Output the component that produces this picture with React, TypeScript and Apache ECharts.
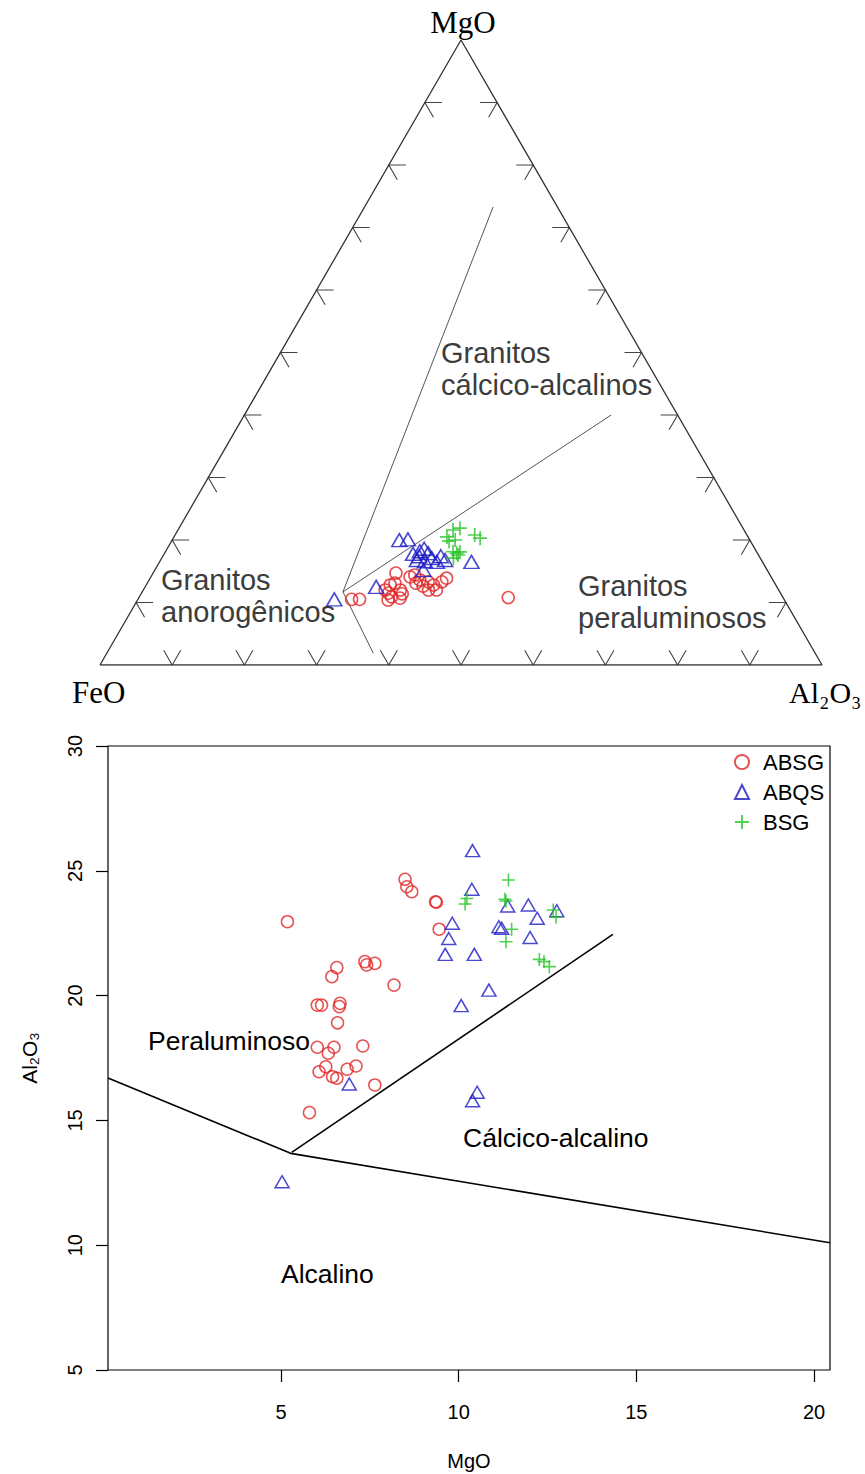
import React, { useEffect, useRef } from 'react';
import * as echarts from 'echarts';

const H = Math.sqrt(3) / 2;

// ---------- Ternary diagram data: [MgO, FeO, Al2O3] (%) ----------
const ternABSG: number[][] = [
  [10.5, 59.9, 29.6], [10.5, 58.8, 30.7], [12.0, 54.5, 33.5], [11.5, 54.3, 34.2],
  [10.4, 54.9, 34.7], [12.8, 53.4, 33.8], [10.9, 54.1, 34.9], [13.1, 52.6, 34.3],
  [14.7, 51.6, 33.6], [12.0, 52.4, 35.6], [10.7, 53.1, 36.2], [11.4, 52.5, 36.2],
  [14.1, 50.0, 35.9], [14.4, 49.2, 36.4], [13.6, 48.9, 37.5], [13.1, 49.7, 37.2],
  [12.6, 48.9, 38.4], [13.3, 47.9, 38.8], [12.0, 48.5, 39.5], [12.8, 47.4, 39.8],
  [12.0, 47.4, 40.6], [13.3, 46.0, 40.7], [13.9, 45.1, 41.1], [10.8, 38.1, 51.2],
];
const ternABQS: number[][] = [
  [10.5, 62.3, 27.2], [12.5, 55.5, 32.0], [20.0, 48.6, 31.5], [20.1, 47.3, 32.6],
  [17.8, 47.8, 34.5], [18.2, 46.6, 35.2], [18.6, 45.8, 35.6], [17.9, 45.6, 36.5],
  [17.1, 45.5, 37.4], [16.8, 47.7, 35.5], [16.6, 46.7, 36.7], [16.5, 45.1, 38.4],
  [17.4, 44.1, 38.5], [15.2, 47.6, 37.2], [16.8, 43.8, 39.4], [16.5, 40.3, 43.2],
  [17.4, 47.1, 35.5],
];
const ternBSG: number[][] = [
  [21.6, 40.3, 38.1], [21.9, 39.2, 38.9], [20.5, 41.7, 37.8], [20.0, 40.8, 39.2],
  [20.8, 37.7, 41.5], [20.3, 37.2, 42.5], [18.1, 42.0, 39.8], [17.9, 41.7, 40.5],
  [17.6, 41.6, 40.8], [17.1, 42.5, 40.4], [18.1, 41.1, 40.8], [19.8, 41.7, 38.4],
];
const ternJunction = [11.7, 60.5, 27.8];
const ternBoundaryEnds: number[][] = [
  [73.3, 8.9, 17.8],
  [40.0, 9.2, 50.8],
  [1.9, 61.2, 36.9],
];
const ternTickFractions = [0.1, 0.2, 0.3, 0.4, 0.5, 0.6, 0.7, 0.8, 0.9];

// ---------- Binary diagram data: [MgO, Al2O3] ----------
const absg: number[][] = [
  [5.18, 22.96], [8.49, 24.66], [8.54, 24.36], [8.68, 24.16], [9.35, 23.76], [9.37, 23.74],
  [9.45, 22.66], [6.57, 21.12], [6.43, 20.76], [7.36, 21.36], [7.41, 21.23], [7.64, 21.29],
  [8.18, 20.42], [6.02, 19.62], [6.14, 19.62], [6.66, 19.69], [6.64, 19.56], [6.59, 18.91],
  [6.02, 17.93], [6.49, 17.93], [6.33, 17.69], [7.30, 17.98], [6.26, 17.15], [6.07, 16.95],
  [7.11, 17.18], [6.86, 17.05], [6.45, 16.75], [6.57, 16.69], [7.64, 16.42], [5.80, 15.31],
];
const abqs: number[][] = [
  [10.39, 25.81], [10.37, 24.26], [11.38, 23.59], [11.96, 23.63], [12.21, 23.10], [12.76, 23.40],
  [9.82, 22.90], [11.13, 22.76], [11.21, 22.70], [9.72, 22.29], [12.01, 22.33], [9.62, 21.65],
  [10.44, 21.65], [10.85, 20.22], [10.07, 19.60], [6.92, 16.46], [10.52, 16.13], [10.39, 15.79],
  [5.03, 12.54],
];
const bsg: number[][] = [
  [11.40, 24.63], [10.23, 23.89], [10.18, 23.67], [11.30, 23.86], [11.33, 23.79], [11.49, 22.66],
  [11.33, 22.16], [12.66, 23.43], [12.74, 23.14], [12.27, 21.45], [12.40, 21.36], [12.55, 21.16],
];
const fieldLine1: number[][] = [[0.13, 16.7], [5.27, 13.68], [20.45, 10.1]];
const fieldLine2: number[][] = [[5.3, 13.72], [14.34, 22.45]];
const xTickValues = [5, 10, 15, 20];

const RED = '#e02626';
const BLUE = '#1c1cc4';
const GREEN = '#26c426';
const SANS = '"Liberation Sans", Arial, sans-serif';
const SERIF = '"Liberation Serif", "Times New Roman", serif';
const CROSS = 'path://M6,0L6,12M0,6L12,6';

function toXY(p: number[]): number[] {
  const s = p[0] + p[1] + p[2];
  const a = p[0] / s;
  const c = p[2] / s;
  return [c + a / 2, a * H];
}

function buildTicks(): number[][][] {
  const L = 17 / 722;
  const out: number[][][] = [];
  ternTickFractions.forEach((f) => {
    const pb = [f, 0];
    out.push([[pb[0] - 0.5 * L, H * L], pb, [pb[0] + 0.5 * L, H * L]]);
    const pl = [f / 2, f * H];
    out.push([[pl[0] + L, pl[1]], pl, [pl[0] + 0.5 * L, pl[1] - H * L]]);
    const pr = [1 - f / 2, f * H];
    out.push([[pr[0] - L, pr[1]], pr, [pr[0] - 0.5 * L, pr[1] - H * L]]);
  });
  return out;
}

export default function App() {
  const ref = useRef<HTMLDivElement>(null);
  useEffect(() => {
    if (!ref.current) return;
    const chart = echarts.init(ref.current, undefined, { renderer: 'svg' });
    const ticks = buildTicks();
    const junction = toXY(ternJunction);
    const option: any = {
      animation: false,
      backgroundColor: '#fff',
      grid: [
        { left: 100, top: 40, width: 722, height: 625, show: false },
        { left: 108, top: 746, width: 722, height: 624, show: true, borderColor: '#000', borderWidth: 1.2, backgroundColor: 'transparent' },
      ],
      xAxis: [
        { gridIndex: 0, type: 'value', min: 0, max: 1, show: false },
        {
          gridIndex: 1, type: 'value', min: 0.13, max: 20.45,
          splitLine: { show: false },
          axisLine: { show: false },
          axisTick: { show: true, length: 12, customValues: xTickValues, lineStyle: { color: '#000', width: 1.2 } },
          axisLabel: { customValues: xTickValues, margin: 32, fontSize: 20, color: '#000', fontFamily: SANS },
          name: 'MgO', nameLocation: 'middle', nameGap: 81,
          nameTextStyle: { fontSize: 20, color: '#000', fontFamily: SANS },
        },
      ],
      yAxis: [
        { gridIndex: 0, type: 'value', min: 0, max: H, show: false },
        {
          gridIndex: 1, type: 'value', min: 5, max: 30, interval: 5,
          splitLine: { show: false },
          axisLine: { show: false },
          axisTick: { show: true, length: 12, lineStyle: { color: '#000', width: 1.2 } },
          axisLabel: { rotate: 90, margin: 23, fontSize: 20, color: '#000', fontFamily: SANS },
          name: 'Al₂O₃', nameLocation: 'middle', nameGap: 68,
          nameTextStyle: { fontSize: 21, color: '#000', fontFamily: SANS },
        },
      ],
      legend: {
        left: 734, top: 751, padding: 0, orient: 'vertical', itemWidth: 14, itemHeight: 14, itemGap: 8,
        selectedMode: false,
        textStyle: { fontSize: 22, color: '#000', fontFamily: SANS, padding: [0, 0, 0, 9] },
        data: ['ABSG', 'ABQS', 'BSG'],
      },
      series: [
        {
          name: 'ABSG', type: 'scatter', xAxisIndex: 1, yAxisIndex: 1, data: absg,
          symbol: 'circle', symbolSize: 12,
          itemStyle: { color: 'transparent', borderColor: RED, borderWidth: 1.5 }, z: 5,
        },
        {
          name: 'ABQS', type: 'scatter', xAxisIndex: 1, yAxisIndex: 1, data: abqs,
          symbol: 'triangle', symbolSize: [14, 12],
          itemStyle: { color: 'transparent', borderColor: BLUE, borderWidth: 1.5 }, z: 5,
        },
        {
          name: 'BSG', type: 'scatter', xAxisIndex: 1, yAxisIndex: 1, data: bsg,
          symbol: CROSS, symbolSize: 13,
          itemStyle: { color: 'transparent', borderColor: GREEN, borderWidth: 1.6 }, z: 5,
        },
        {
          type: 'line', xAxisIndex: 1, yAxisIndex: 1, data: fieldLine1, symbol: 'none',
          lineStyle: { color: '#000', width: 1.6 }, silent: true, z: 3,
        },
        {
          type: 'line', xAxisIndex: 1, yAxisIndex: 1, data: fieldLine2, symbol: 'none',
          lineStyle: { color: '#000', width: 1.6 }, silent: true, z: 3,
        },
        {
          type: 'line', xAxisIndex: 0, yAxisIndex: 0, symbol: 'none', silent: true,
          data: [[0, 0], [1, 0], [0.5, H], [0, 0]],
          lineStyle: { color: '#333', width: 1.3 }, z: 2,
        },
        {
          type: 'lines', coordinateSystem: 'cartesian2d', xAxisIndex: 0, yAxisIndex: 0,
          polyline: true, silent: true,
          data: ticks.map((t) => ({ coords: t })),
          lineStyle: { color: '#444', width: 1.1, opacity: 1 }, z: 2,
        },
        {
          type: 'lines', coordinateSystem: 'cartesian2d', xAxisIndex: 0, yAxisIndex: 0,
          polyline: false, silent: true,
          data: ternBoundaryEnds.map((e) => ({ coords: [junction, toXY(e)] })),
          lineStyle: { color: '#555', width: 1, opacity: 1 }, z: 2,
        },
        {
          name: 'ABSG', type: 'scatter', xAxisIndex: 0, yAxisIndex: 0, data: ternABSG.map(toXY),
          symbol: 'circle', symbolSize: 12,
          itemStyle: { color: 'transparent', borderColor: RED, borderWidth: 1.6 }, z: 5,
        },
        {
          name: 'ABQS', type: 'scatter', xAxisIndex: 0, yAxisIndex: 0, data: ternABQS.map(toXY),
          symbol: 'triangle', symbolSize: [15, 13],
          itemStyle: { color: 'transparent', borderColor: BLUE, borderWidth: 1.6 }, z: 5,
        },
        {
          name: 'BSG', type: 'scatter', xAxisIndex: 0, yAxisIndex: 0, data: ternBSG.map(toXY),
          symbol: CROSS, symbolSize: 14,
          itemStyle: { color: 'transparent', borderColor: GREEN, borderWidth: 1.7 }, z: 5,
        },
      ],
      graphic: [
        { type: 'text', x: 463, y: 22, style: { text: 'MgO', font: `31px ${SERIF}`, fill: '#000', align: 'center', verticalAlign: 'middle' } },
        { type: 'text', x: 72, y: 692, style: { text: 'FeO', font: `31px ${SERIF}`, fill: '#000', align: 'left', verticalAlign: 'middle' } },
        { type: 'text', x: 789, y: 692, style: { text: 'Al₂O₃', font: `30px ${SERIF}`, fill: '#000', align: 'left', verticalAlign: 'middle' } },
        { type: 'text', x: 441, y: 337, style: { text: 'Granitos\ncálcico-alcalinos', font: `29px ${SANS}`, lineHeight: 32, fill: '#3c3c3c', align: 'left', verticalAlign: 'top' } },
        { type: 'text', x: 161, y: 564, style: { text: 'Granitos\nanorogênicos', font: `29px ${SANS}`, lineHeight: 32, fill: '#3c3c3c', align: 'left', verticalAlign: 'top' } },
        { type: 'text', x: 578, y: 570, style: { text: 'Granitos\nperaluminosos', font: `29px ${SANS}`, lineHeight: 32, fill: '#3c3c3c', align: 'left', verticalAlign: 'top' } },
        { type: 'text', x: 148, y: 1041, style: { text: 'Peraluminoso', font: `26.5px ${SANS}`, fill: '#000', align: 'left', verticalAlign: 'middle' } },
        { type: 'text', x: 463, y: 1138, style: { text: 'Cálcico-alcalino', font: `26.5px ${SANS}`, fill: '#000', align: 'left', verticalAlign: 'middle' } },
        { type: 'text', x: 281, y: 1274, style: { text: 'Alcalino', font: `26.5px ${SANS}`, fill: '#000', align: 'left', verticalAlign: 'middle' } },
      ],
    };
    chart.setOption(option);
    return () => chart.dispose();
  }, []);
  return (
    <div
      ref={ref}
      style={{ position: 'absolute', left: 0, top: 0, width: 865, height: 1474, background: '#fff' }}
    />
  );
}
